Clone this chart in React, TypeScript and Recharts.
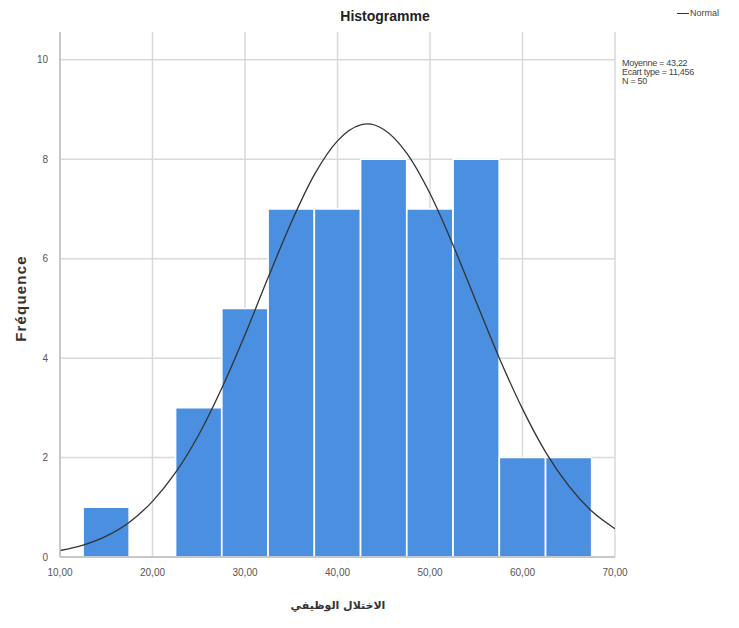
import React from "react";
import {
  ComposedChart,
  Bar,
  Line,
  XAxis,
  YAxis,
  CartesianGrid,
} from "recharts";

// Histogram bins (bin centres, width 5) and counts
const binCenters = [15, 20, 25, 30, 35, 40, 45, 50, 55, 60, 65];
const binCounts = [1, 0, 3, 5, 7, 7, 8, 7, 8, 2, 2];

// Normal curve
const curveX = [10, 12.5, 15, 17.5, 20, 22.5, 25, 27.5, 30, 32.5, 35, 37.5, 40, 42.5, 43.22, 45, 47.5, 50, 52.5, 55, 57.5, 60, 62.5, 65, 67.5, 70];
const curveY = [0.13, 0.24, 0.42, 0.7, 1.12, 1.7, 2.46, 3.4, 4.47, 5.62, 6.73, 7.69, 8.37, 8.69, 8.71, 8.6, 8.12, 7.31, 6.27, 5.13, 4.0, 2.98, 2.11, 1.43, 0.92, 0.57];

const xTicks = [10, 20, 30, 40, 50, 60, 70];
const yTicks = [0, 2, 4, 6, 8, 10];

const statsLines = ["Moyenne = 43,22", "Ecart type = 11,456", "N = 50"];
const title = "Histogramme";
const xTitle = "الاختلال الوظيفي";
const yTitle = "Fréquence";
const legendLabel = "Normal";

const binData = binCenters.map((x, i) => ({ x, count: binCounts[i] }));
const curveData = curveX.map((x, i) => ({ x, normal: curveY[i] }));

const narrow = "'Liberation Sans Narrow', 'Arial Narrow', 'Liberation Sans', Arial, sans-serif";
const sans = "'Liberation Sans', Arial, sans-serif";

const fmtX = (v: number) => v.toFixed(2).replace(".", ",");

export default function App() {
  return (
    <div style={{ position: "relative", width: 731, height: 612, fontFamily: sans }}>
      <ComposedChart
        width={731}
        height={612}
        data={binData}
        margin={{ top: 24, right: 124, bottom: 43, left: 0 }}
        barCategoryGap={0}
        barGap={0}
      >
        <CartesianGrid
          xAxisId="bins"
          stroke="#d9d9d9"
          strokeWidth={1.5}
          horizontalValues={yTicks}
          verticalValues={xTicks}
        />
        <XAxis
          xAxisId="bins"
          dataKey="x"
          type="number"
          domain={[10, 70]}
          ticks={xTicks}
          tickFormatter={fmtX}
          axisLine={{ stroke: "#bfbfbf", strokeWidth: 1.5 }}
          tickLine={false}
          tick={{ fontSize: 10, fill: "#555", fontFamily: narrow }}
          tickMargin={6}
          height={20}
          allowDataOverflow
        />
        <XAxis
          xAxisId="curve"
          dataKey="x"
          type="number"
          domain={[10, 70]}
          hide
          allowDataOverflow
        />
        <YAxis
          type="number"
          domain={[0, 10.56]}
          ticks={yTicks}
          width={52}
          axisLine={{ stroke: "#bfbfbf", strokeWidth: 1.5 }}
          tickLine={false}
          tick={{ fontSize: 10, fill: "#555", fontFamily: narrow }}
          tickMargin={6}
          allowDataOverflow
        />
        <Bar
          xAxisId="bins"
          dataKey="count"
          fill="#4a8fe0"
          stroke="#ffffff"
          strokeWidth={1.5}
          isAnimationActive={false}
        />
        <Line
          xAxisId="curve"
          data={curveData}
          dataKey="normal"
          type="monotone"
          stroke="#333333"
          strokeWidth={1.3}
          dot={false}
          activeDot={false}
          isAnimationActive={false}
        />
      </ComposedChart>

      <div
        style={{
          position: "absolute",
          left: 317,
          top: 0,
          width: 120,
          textAlign: "center",
          fontWeight: "bold",
          fontSize: 14,
          color: "#222",
          fontFamily: sans,
          lineHeight: "16px",
        }}
      >
        {title}
      </div>

      <div
        style={{
          position: "absolute",
          left: 669,
          top: 0,
          fontSize: 9,
          color: "#444",
          fontFamily: narrow,
          whiteSpace: "nowrap",
          display: "flex",
          alignItems: "center",
          lineHeight: "11px",
        }}
      >
        <span style={{ display: "inline-block", width: 12, height: 1, background: "#333", marginRight: 1 }} />
        {legendLabel}
      </div>

      <div
        style={{
          position: "absolute",
          left: 614,
          top: 51,
          fontSize: 9,
          color: "#444",
          fontFamily: narrow,
          lineHeight: "9px",
          whiteSpace: "nowrap",
          letterSpacing: -0.3,
        }}
      >
        {statsLines.map((s) => (
          <div key={s}>{s}</div>
        ))}
      </div>

      <div
        style={{
          position: "absolute",
          left: -43,
          top: 282,
          width: 110,
          textAlign: "center",
          transform: "rotate(-90deg)",
          fontWeight: "bold",
          fontSize: 15,
          color: "#333",
          fontFamily: sans,
          letterSpacing: 1.2,
        }}
      >
        {yTitle}
      </div>

      <div
        style={{
          position: "absolute",
          left: 230,
          top: 591,
          width: 200,
          textAlign: "center",
          fontWeight: "bold",
          fontSize: 11,
          color: "#333",
          fontFamily: "'DejaVu Sans', sans-serif",
          direction: "rtl",
        }}
      >
        {xTitle}
      </div>
    </div>
  );
}
